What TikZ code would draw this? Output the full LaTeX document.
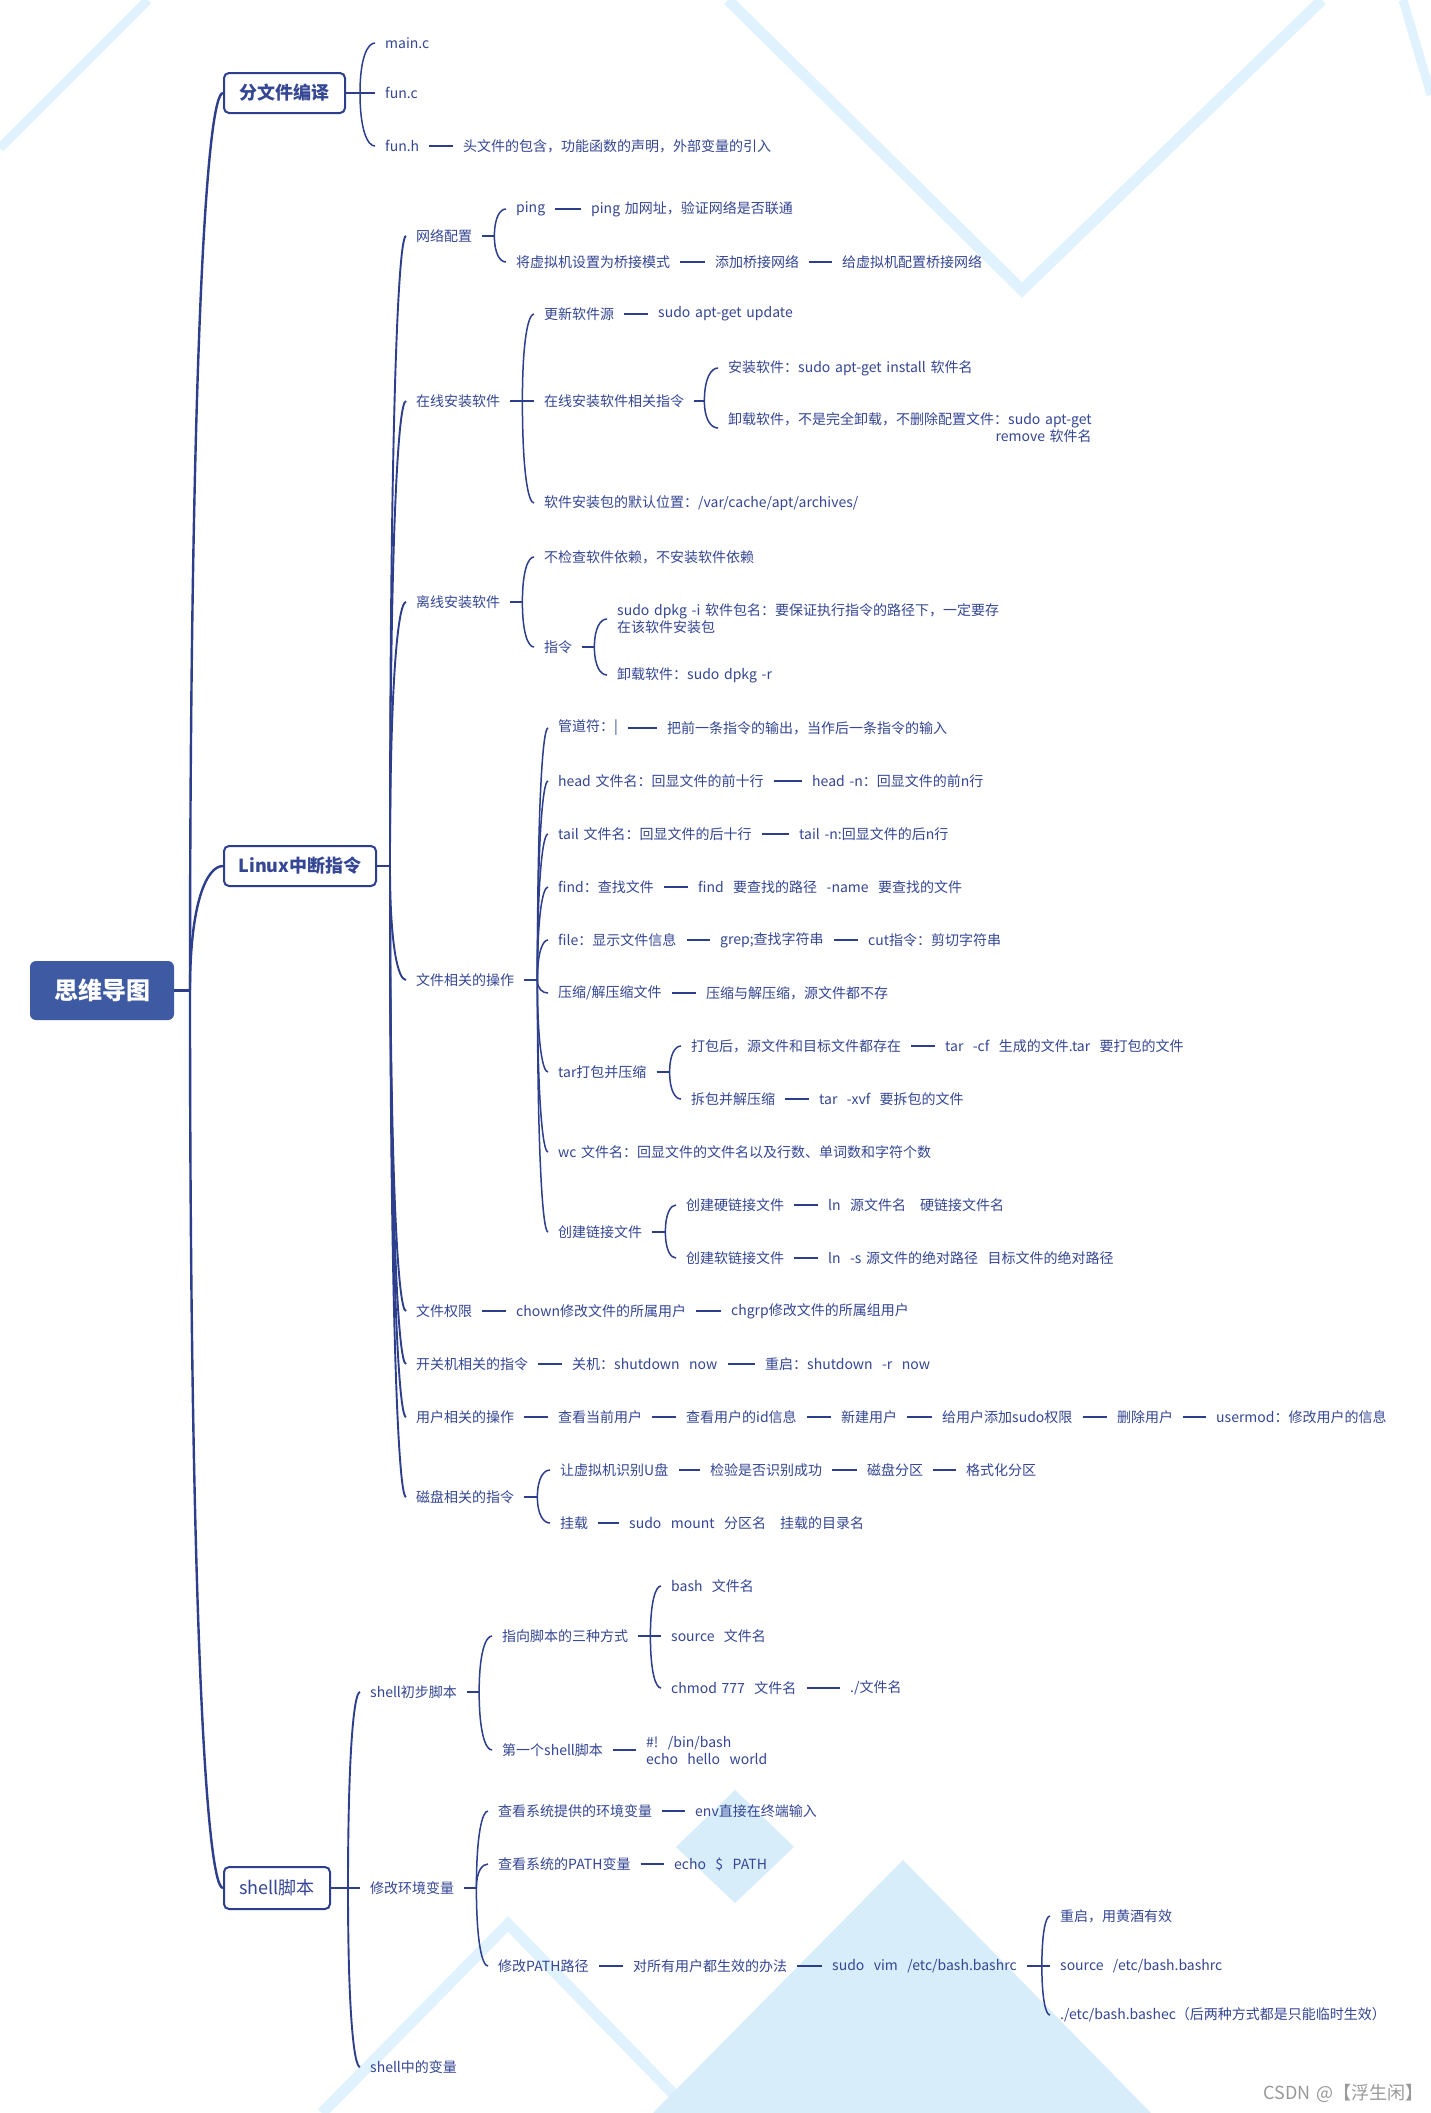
\documentclass[tikz,border=0pt]{standalone}
\usepackage{fontspec}
\setmainfont[WordSpace={1.5}]{Noto Sans CJK SC}
\usetikzlibrary{calc}
\definecolor{navy}{RGB}{44,62,140}
\definecolor{txt}{RGB}{52,70,148}
\definecolor{rootc}{RGB}{62,90,162}
\definecolor{bgf}{RGB}{216,237,250}
\definecolor{bgl}{RGB}{224,242,253}
\newcommand{\tf}{\fontsize{14}{17}\selectfont}
\newcommand{\bxf}{\fontsize{18}{21}\selectfont}
\begin{document}
\begin{tikzpicture}[x=1pt,y=-1pt,
  t/.style={anchor=west,inner xsep=10pt,inner ysep=2pt,font=\tf,text=txt},
  box/.style={draw=navy,line width=2pt,rounded corners=5pt,fill=white,text=txt,inner sep=0pt},
  xm/.style={to path={.. controls ($(\tikztostart)!0.7!(\tikztostart |- \tikztotarget)$) and ($(\tikztostart |- \tikztotarget)!0.5!(\tikztotarget)$) .. (\tikztotarget)}},
  trunk/.style={draw=navy,line width=2.4pt},
  lvl/.style={draw=navy,line width=1.9pt},
  brl/.style={draw=navy,line width=1.5pt},
  stub/.style={draw=navy,line width=2pt},
  ln/.style={draw=navy,line width=2.5pt}
]
\useasboundingbox (0,0) rectangle (1431,2113);
\fill[white] (0,0) rectangle (1431,2113);
% background decoration
\draw[bgl,line width=9pt] (0,148) -- (148,0);
\draw[bgl,line width=11pt] (728,0) -- (1022,290) -- (1322,0);
\draw[bgl,line width=9pt] (1403,0) -- (1431,95);
\fill[bgf] (735,1790) -- (794,1847) -- (735,1903) -- (676,1847) -- cycle;
\draw[bgl,line width=11pt] (322,2113) -- (508,1924) -- (692,2113);
\fill[bgf] (903,1860) -- (1151,2113) -- (653,2113) -- cycle;

% root
\node[fill=rootc,text=white,rounded corners=6pt,minimum width=144pt,minimum height=59pt,inner sep=0pt,font=\fontsize{24}{28}\selectfont\bfseries] (root) at (102,990.5) {思维导图};
\coordinate (rb) at (190,990.5);
\draw[trunk] (root.east) -- (rb);

\node[box,minimum width=121pt,minimum height=40pt,font=\bxf\bfseries] (fw) at (284.5,93) {分文件编译};
\node[box,minimum width=152pt,minimum height=40pt,font=\bxf\bfseries] (lx) at (300,866) {Linux中断指令};
\node[box,minimum width=106pt,minimum height=42pt,font=\bxf] (sh) at (277,1888) {shell脚本};
\foreach \k in {fw,lx,sh} \draw[trunk] (rb) to[xm] (\k.west);

% ---- 分文件编译
\coordinate (fwb) at (360,93);
\draw[stub] (fw.east) -- (fwb);
\node[t] (mainc) at (375,43) {main.c};
\node[t] (func) at (375,93) {fun.c};
\node[t] (funh) at (375,146) {fun.h};
\node[t] (funh2) at (453,146) {头文件的包含，功能函数的声明，外部变量的引入};
\draw[ln] (funh.east) -- (funh2.west);
\foreach \k in {mainc,func,funh} \draw[brl] (fwb) to[xm] (\k.west);

% ---- Linux
\coordinate (lxb) at (390,866);
\draw[stub] (lx.east) -- (lxb);
\node[t] (net) at (406,236) {网络配置};
\node[t] (onl) at (406,401) {在线安装软件};
\node[t] (off) at (406,602) {离线安装软件};
\node[t] (fil) at (406,980) {文件相关的操作};
\node[t] (perm) at (406,1311) {文件权限};
\node[t] (pow) at (406,1364) {开关机相关的指令};
\node[t] (usr) at (406,1417) {用户相关的操作};
\node[t] (dsk) at (406,1497) {磁盘相关的指令};
\foreach \k in {net,onl,off,fil,perm,pow,usr,dsk} \draw[lvl] (lxb) to[xm] (\k.west);

% 网络配置
\coordinate (netb) at ($(net.east)+(12,0)$);
\draw[stub] (net.east) -- (netb);
\node[t] (ping) at (506,209) {ping};
\node[t] (ping2) at (581,209) {ping 加网址，验证网络是否联通};
\node[t] (brg) at (506,262) {将虚拟机设置为桥接模式};
\node[t] (brg2) at (705,262) {添加桥接网络};
\node[t] (brg3) at (832,262) {给虚拟机配置桥接网络};
\draw[ln] (ping.east) -- (ping2.west);
\draw[ln] (brg.east) -- (brg2.west);
\draw[ln] (brg2.east) -- (brg3.west);
\foreach \k in {ping,brg} \draw[brl] (netb) to[xm] (\k.west);

% 在线安装软件
\coordinate (onlb) at ($(onl.east)+(12,0)$);
\draw[stub] (onl.east) -- (onlb);
\node[t] (upd) at (534,314) {更新软件源};
\node[t] (upd2) at (648,314) {sudo apt-get update};
\node[t] (cmd) at (534,401) {在线安装软件相关指令};
\node[t] (loc) at (534,503) {软件安装包的默认位置：/var/cache/apt/archives/};
\draw[ln] (upd.east) -- (upd2.west);
\foreach \k in {upd,cmd,loc} \draw[brl] (onlb) to[xm] (\k.west);
\coordinate (cmdb) at ($(cmd.east)+(10,0)$);
\draw[stub] (cmd.east) -- (cmdb);
\node[t] (ins) at (718,368) {安装软件：sudo apt-get install 软件名};
\node[t,align=right] (rem) at (718,428) {卸载软件，不是完全卸载，不删除配置文件：sudo apt-get\\remove 软件名};
\foreach \k in {ins,rem} \draw[brl] (cmdb) to[xm] (\k.west);

% 离线安装软件
\coordinate (offb) at ($(off.east)+(12,0)$);
\draw[stub] (off.east) -- (offb);
\node[t] (nod) at (534,557) {不检查软件依赖，不安装软件依赖};
\node[t] (zl) at (534,647) {指令};
\foreach \k in {nod,zl} \draw[brl] (offb) to[xm] (\k.west);
\coordinate (zlb) at ($(zl.east)+(12,0)$);
\draw[stub] (zl.east) -- (zlb);
\node[t,align=left] (dpi) at (607,619) {sudo dpkg -i 软件包名：要保证执行指令的路径下，一定要存\\在该软件安装包};
\node[t] (dpr) at (607,675) {卸载软件：sudo dpkg -r};
\foreach \k in {dpi,dpr} \draw[brl] (zlb) to[xm] (\k.west);

% 文件相关的操作
\coordinate (filb) at ($(fil.east)+(13,0)$);
\draw[stub] (fil.east) -- (filb);
\node[t] (pipe) at (548,728) {管道符：|};
\node[t] (pipe2) at (657,728) {把前一条指令的输出，当作后一条指令的输入};
\node[t] (head) at (548,781) {head 文件名：回显文件的前十行};
\node[t] (head2) at (802,781) {head -n：回显文件的前n行};
\node[t] (tail) at (548,834) {tail 文件名：回显文件的后十行};
\node[t] (tail2) at (789,834) {tail -n:回显文件的后n行};
\node[t] (find) at (548,887) {find：查找文件};
\node[t] (find2) at (688,887) {find\ \ 要查找的路径\ \ -name\ \ 要查找的文件};
\node[t] (file) at (548,940) {file：显示文件信息};
\node[t] (file2) at (710,940) {grep;查找字符串};
\node[t] (file3) at (858,940) {cut指令：剪切字符串};
\node[t] (zip) at (548,993) {压缩/解压缩文件};
\node[t] (zip2) at (696,993) {压缩与解压缩，源文件都不存};
\node[t] (tar) at (548,1072) {tar打包并压缩};
\node[t] (wc) at (548,1152) {wc 文件名：回显文件的文件名以及行数、单词数和字符个数};
\node[t] (lnk) at (548,1232) {创建链接文件};
\draw[ln] (pipe.east) -- (pipe2.west);
\draw[ln] (head.east) -- (head2.west);
\draw[ln] (tail.east) -- (tail2.west);
\draw[ln] (find.east) -- (find2.west);
\draw[ln] (file.east) -- (file2.west);
\draw[ln] (file2.east) -- (file3.west);
\draw[ln] (zip.east) -- (zip2.west);
\foreach \k in {pipe,head,tail,find,file,zip,tar,wc,lnk} \draw[brl] (filb) to[xm] (\k.west);

\coordinate (tarb) at ($(tar.east)+(13,0)$);
\draw[stub] (tar.east) -- (tarb);
\node[t] (tarc) at (681,1046) {打包后，源文件和目标文件都存在};
\node[t] (tarc2) at (935,1046) {tar\ \ -cf\ \ 生成的文件.tar\ \ 要打包的文件};
\node[t] (tarx) at (681,1099) {拆包并解压缩};
\node[t] (tarx2) at (809,1099) {tar\ \ -xvf\ \ 要拆包的文件};
\draw[ln] (tarc.east) -- (tarc2.west);
\draw[ln] (tarx.east) -- (tarx2.west);
\foreach \k in {tarc,tarx} \draw[brl] (tarb) to[xm] (\k.west);

\coordinate (lnkb) at ($(lnk.east)+(13,0)$);
\draw[stub] (lnk.east) -- (lnkb);
\node[t] (hard) at (676,1205) {创建硬链接文件};
\node[t] (hard2) at (818,1205) {ln\ \ 源文件名\ \ \ 硬链接文件名};
\node[t] (soft) at (676,1258) {创建软链接文件};
\node[t] (soft2) at (818,1258) {ln\ \ -s 源文件的绝对路径\ \ 目标文件的绝对路径};
\draw[ln] (hard.east) -- (hard2.west);
\draw[ln] (soft.east) -- (soft2.west);
\foreach \k in {hard,soft} \draw[brl] (lnkb) to[xm] (\k.west);

% 文件权限 etc.
\node[t] (perm2) at (506,1311) {chown修改文件的所属用户};
\node[t] (perm3) at (721,1311) {chgrp修改文件的所属组用户};
\draw[ln] (perm.east) -- (perm2.west);
\draw[ln] (perm2.east) -- (perm3.west);
\node[t] (pow2) at (562,1364) {关机：shutdown\ \ now};
\node[t] (pow3) at (755,1364) {重启：shutdown\ \ -r\ \ now};
\draw[ln] (pow.east) -- (pow2.west);
\draw[ln] (pow2.east) -- (pow3.west);
\node[t] (usr2) at (548,1417) {查看当前用户};
\node[t] (usr3) at (676,1417) {查看用户的id信息};
\node[t] (usr4) at (831,1417) {新建用户};
\node[t] (usr5) at (932,1417) {给用户添加sudo权限};
\node[t] (usr6) at (1107,1417) {删除用户};
\node[t] (usr7) at (1206,1417) {usermod：修改用户的信息};
\draw[ln] (usr.east) -- (usr2.west);
\draw[ln] (usr2.east) -- (usr3.west);
\draw[ln] (usr3.east) -- (usr4.west);
\draw[ln] (usr4.east) -- (usr5.west);
\draw[ln] (usr5.east) -- (usr6.west);
\draw[ln] (usr6.east) -- (usr7.west);

\coordinate (dskb) at ($(dsk.east)+(13,0)$);
\draw[stub] (dsk.east) -- (dskb);
\node[t] (ud) at (550,1470) {让虚拟机识别U盘};
\node[t] (ud2) at (700,1470) {检验是否识别成功};
\node[t] (ud3) at (857,1470) {磁盘分区};
\node[t] (ud4) at (956,1470) {格式化分区};
\node[t] (mnt) at (550,1523) {挂载};
\node[t] (mnt2) at (619,1523) {sudo\ \ mount\ \ 分区名\ \ \ 挂载的目录名};
\draw[ln] (ud.east) -- (ud2.west);
\draw[ln] (ud2.east) -- (ud3.west);
\draw[ln] (ud3.east) -- (ud4.west);
\draw[ln] (mnt.east) -- (mnt2.west);
\foreach \k in {ud,mnt} \draw[brl] (dskb) to[xm] (\k.west);

% ---- shell
\coordinate (shb) at ($(sh.east)+(17,0)$);
\draw[stub] (sh.east) -- (shb);
\node[t] (s1) at (360,1692) {shell初步脚本};
\node[t] (s2) at (360,1888) {修改环境变量};
\node[t] (s3) at (360,2067) {shell中的变量};
\foreach \k in {s1,s2,s3} \draw[lvl] (shb) to[xm] (\k.west);

\coordinate (s1b) at ($(s1.east)+(12,0)$);
\draw[stub] (s1.east) -- (s1b);
\node[t] (way) at (492,1636) {指向脚本的三种方式};
\node[t] (first) at (492,1750) {第一个shell脚本};
\node[t,align=left] (first2) at (636,1750) {\#!\ \ /bin/bash\\echo\ \ hello\ \ world};
\draw[ln] (first.east) -- (first2.west);
\foreach \k in {way,first} \draw[brl] (s1b) to[xm] (\k.west);
\coordinate (wayb) at ($(way.east)+(12,0)$);
\draw[stub] (way.east) -- (wayb);
\node[t] (bash) at (661,1586) {bash\ \ 文件名};
\node[t] (src) at (661,1636) {source\ \ 文件名};
\node[t] (chm) at (661,1688) {chmod 777\ \ 文件名};
\node[t] (chm2) at (840,1688) {./文件名};
\draw[ln] (chm.east) -- (chm2.west);
\foreach \k in {bash,src,chm} \draw[brl] (wayb) to[xm] (\k.west);

\coordinate (s2b) at ($(s2.east)+(12,0)$);
\draw[stub] (s2.east) -- (s2b);
\node[t] (env) at (488,1811) {查看系统提供的环境变量};
\node[t] (env2) at (685,1811) {env直接在终端输入};
\node[t] (path) at (488,1864) {查看系统的PATH变量};
\node[t] (path2) at (664,1864) {echo\ \ \$\ \ PATH};
\node[t] (mod) at (488,1966) {修改PATH路径};
\node[t] (mod2) at (623,1966) {对所有用户都生效的办法};
\node[t] (mod3) at (822,1966) {sudo\ \ vim\ \ /etc/bash.bashrc};
\draw[ln] (env.east) -- (env2.west);
\draw[ln] (path.east) -- (path2.west);
\draw[ln] (mod.east) -- (mod2.west);
\draw[ln] (mod2.east) -- (mod3.west);
\foreach \k in {env,path,mod} \draw[brl] (s2b) to[xm] (\k.west);
\coordinate (mod3b) at ($(mod3.east)+(15,0)$);
\draw[stub] (mod3.east) -- (mod3b);
\node[t] (r1) at (1050,1916) {重启，用黄酒有效};
\node[t] (r2) at (1050,1966) {source\ \ /etc/bash.bashrc};
\node[t] (r3) at (1050,2015) {./etc/bash.bashec（后两种方式都是只能临时生效）};
\foreach \k in {r1,r2,r3} \draw[brl] (mod3b) to[xm] (\k.west);

% watermark
\node[anchor=east,inner sep=0pt,text=black!40,font=\fontsize{18}{20}\selectfont] (wm) at (1424,2093) {CSDN @【浮生闲】};
\end{tikzpicture}
\end{document}
